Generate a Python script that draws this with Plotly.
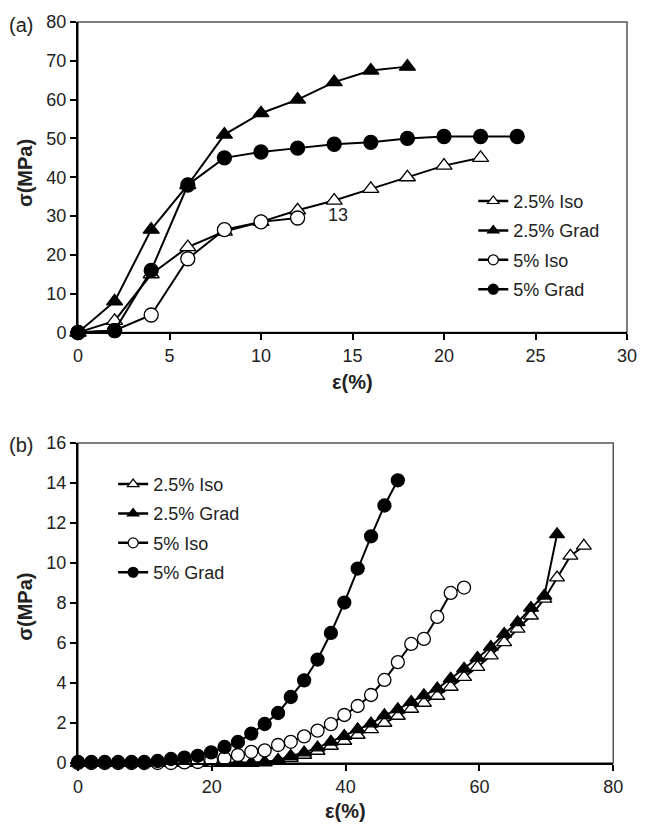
import plotly.graph_objects as go

# ---------------- panel (a): tensile data ----------------
strain_a = [0, 2, 4, 6, 8, 10, 12, 14, 16, 18, 20, 22, 24]
iso25_a = [0, 3, 15, 22, 26, 28.5, 31.5, 34, 37, 40, 43, 45]
grad25_a = [0, 8, 26.5, 38, 51, 56.5, 60, 64.5, 67.5, 68.5]
iso5_a = [0, 0.5, 4.5, 19, 26.5, 28.5, 29.5]
grad5_a = [0, 0.5, 16, 38, 45, 46.5, 47.5, 48.5, 49, 50, 50.5, 50.5, 50.5]

# ---------------- panel (b): compressive data ----------------
strain_b = [0, 2.0, 4.0, 6.0, 8.0, 9.9, 11.9, 13.9, 15.9, 17.9, 19.9, 21.9,
            23.9, 25.9, 27.9, 29.9, 31.8, 33.8, 35.8, 37.8, 39.8, 41.8, 43.8,
            45.8, 47.8, 49.8, 51.7, 53.7, 55.7, 57.7, 59.7, 61.7, 63.7, 65.7,
            67.7, 69.7, 71.6, 73.6, 75.6]
iso25_b = [0, 0, 0, 0, 0, 0, 0, 0, 0, 0, 0, 0, 0, 0, 0.02, 0.1, 0.25, 0.4,
           0.6, 0.85, 1.1, 1.4, 1.68, 2.0, 2.35, 2.7, 3.0, 3.35, 3.8, 4.29,
           4.79, 5.37, 6.03, 6.7, 7.36, 8.2, 9.27, 10.35, 10.85]
grad25_b = [0, 0, 0, 0, 0, 0, 0, 0, 0, 0, 0, 0, 0, 0, 0.05, 0.15, 0.35, 0.52,
            0.77, 1.06, 1.35, 1.68, 1.97, 2.38, 2.68, 3.05, 3.38, 3.72, 4.21,
            4.71, 5.25, 5.8, 6.45, 7.03, 7.75, 8.36, 11.43]
iso5_b = [0, 0, 0, 0, 0, 0, 0, 0, 0.03, 0.05, 0.15, 0.23, 0.4, 0.56, 0.63,
          0.9, 1.06, 1.33, 1.62, 1.94, 2.4, 2.85, 3.4, 4.15, 5.04, 5.95, 6.2,
          7.3, 8.5, 8.77]
grad5_b = [0.05, 0.05, 0.05, 0.05, 0.05, 0.05, 0.1, 0.2, 0.27, 0.36, 0.53,
           0.8, 1.05, 1.47, 1.95, 2.5, 3.3, 4.13, 5.17, 6.5, 8.02, 9.72, 11.33,
           12.87, 14.13]

series_names = ["2.5% Iso", "2.5% Grad", "5% Iso", "5% Grad"]
x_ticks_a = [0, 5, 10, 15, 20, 25, 30]
y_ticks_a = [0, 10, 20, 30, 40, 50, 60, 70, 80]
x_ticks_b = [0, 20, 40, 60, 80]
y_ticks_b = [0, 2, 4, 6, 8, 10, 12, 14, 16]

FONT = "Liberation Sans, Arial, sans-serif"
TXT = "#222"
styles = [
    dict(symbol="triangle-up", color="white"),
    dict(symbol="triangle-up", color="black"),
    dict(symbol="circle", color="white"),
    dict(symbol="circle", color="black"),
]

fig = go.Figure()


def add_series(xs, ys, name, style, xaxis, yaxis, legend, size):
    # plotted curve (kept out of the legend)
    fig.add_trace(go.Scatter(
        x=xs[:len(ys)], y=ys, name=name, mode="lines+markers",
        xaxis=xaxis, yaxis=yaxis, showlegend=False, cliponaxis=False,
        line=dict(color="black", width=2),
        marker=dict(symbol=style["symbol"], size=size, color=style["color"],
                    line=dict(color="black", width=1.3)),
    ))
    # legend entry with a smaller marker
    fig.add_trace(go.Scatter(
        x=[None], y=[None], name=name, mode="lines+markers",
        xaxis=xaxis, yaxis=yaxis, legend=legend, legendgroup=legend + name,
        line=dict(color="black", width=2.5),
        marker=dict(symbol=style["symbol"], size=10, color=style["color"],
                    line=dict(color="black", width=1.2)),
    ))


data_a = [iso25_a, grad25_a, iso5_a, grad5_a]
data_b = [iso25_b, grad25_b, iso5_b, grad5_b]
for name, ys, st in zip(series_names, data_a, styles):
    add_series(strain_a, ys, name, st, "x", "y", "legend", 14)
for name, ys, st in zip(series_names, data_b, styles):
    add_series(strain_b, ys, name, st, "x2", "y2", "legend2", 13)

axis_common = dict(
    showgrid=False, zeroline=False, showline=True, linecolor="black",
    linewidth=2, ticks="outside", ticklen=6, tickwidth=1.5, tickcolor="black",
    tickfont=dict(family=FONT, size=18, color=TXT),
)

legend_common = dict(
    xanchor="left", yanchor="top", bgcolor="rgba(0,0,0,0)", borderwidth=0,
    tracegroupgap=3, itemsizing="trace",
    font=dict(family=FONT, size=18, color=TXT),
)

fig.update_layout(
    width=649, height=824,
    margin=dict(l=78, r=13, t=18, b=61),
    paper_bgcolor="white", plot_bgcolor="white",
    showlegend=True,
    xaxis=dict(domain=[0, 1], range=[0, 30], tickvals=x_ticks_a,
               anchor="y", **axis_common),
    yaxis=dict(domain=[0.581, 1.0], range=[0, 80], tickvals=y_ticks_a,
               anchor="x", **axis_common),
    xaxis2=dict(domain=[0, 0.975], range=[0, 80], tickvals=x_ticks_b,
                anchor="y2", **axis_common),
    yaxis2=dict(domain=[0, 0.432], range=[0, 16], tickvals=y_ticks_b,
                anchor="x2", **axis_common),
    legend=dict(x=0.72, y=0.783, **legend_common),
    legend2=dict(x=0.064, y=0.401, **legend_common),
)

# grey frame on the top and right of each plot area
for xr, yr in (("x", "y"), ("x2", "y2")):
    fig.add_shape(type="rect", xref=xr + " domain", yref=yr + " domain",
                  x0=0, x1=1, y0=0, y1=1, layer="below",
                  line=dict(color="#555", width=1.5))

annotations = [
    dict(text="(a)", x=20, y=21, size=20),
    dict(text="(b)", x=20, y=443, size=20),
    dict(text="σ(MPa)", x=24, y=170, textangle=-90, bold=True, size=20),
    dict(text="σ(MPa)", x=24, y=606, textangle=-90, bold=True, size=20),
    dict(text="ε(%)", x=357, y=380, bold=True, size=20),
    dict(text="ε(%)", x=350, y=811, bold=True, size=20),
]
for a in annotations:
    txt = "<b>%s</b>" % a["text"] if a.get("bold") else a["text"]
    fig.add_annotation(
        text=txt, xref="paper", yref="paper",
        x=(a["x"] - 78) / 558, y=(763 - a["y"]) / 745,
        xanchor="center", yanchor="middle", showarrow=False,
        textangle=a.get("textangle", 0),
        font=dict(family=FONT, size=a["size"], color=TXT),
    )

# point label on the 2.5% Iso curve
fig.add_annotation(text="13", x=14.2, y=30.2, xref="x", yref="y",
                   showarrow=False,
                   font=dict(family=FONT, size=18, color=TXT))

fig.write_html("out.html")
